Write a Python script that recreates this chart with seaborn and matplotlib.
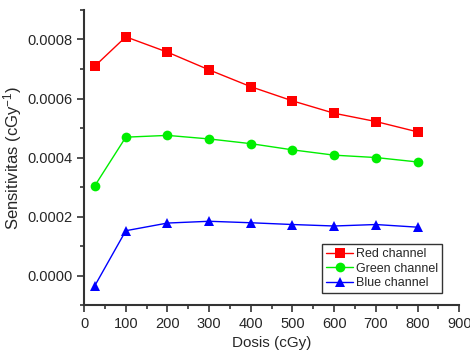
import pandas as pd
import matplotlib.pyplot as plt
import seaborn as sns
from matplotlib.ticker import MultipleLocator

# data
dose = [25, 100, 200, 300, 400, 500, 600, 700, 800]
red = [0.000709, 0.000809, 0.000757, 0.000697, 0.000640, 0.000592, 0.000550, 0.000522, 0.000487]
green = [0.000303, 0.000469, 0.000475, 0.000463, 0.000447, 0.000426, 0.000408, 0.000400, 0.000385]
blue = [-0.000036, 0.000152, 0.000178, 0.000184, 0.000179, 0.000173, 0.000168, 0.000173, 0.000164]
channels = ["Red channel", "Green channel", "Blue channel"]

df = pd.concat([
    pd.DataFrame({"Dosis": dose, "S": vals, "Channel": name})
    for name, vals in zip(channels, [red, green, blue])
])

sns.set_style("ticks")
plt.rcParams['font.family'] = ['Liberation Sans', 'DejaVu Sans']
plt.rcParams['mathtext.default'] = 'regular'

fig = plt.figure(figsize=(4.7, 3.56), dpi=100)
ax = fig.add_axes([0.179, 0.143, 0.798, 0.829])

sns.lineplot(data=df, x="Dosis", y="S", hue="Channel", style="Channel",
             palette=["#ff0000", "#00ee00", "#0000ff"],
             markers=["s", "o", "^"], dashes=False, markersize=7,
             markeredgewidth=0, linewidth=1, ax=ax)

ax.set_xlim(0, 900)
ax.set_ylim(-0.0001, 0.0009)
ax.xaxis.set_major_locator(MultipleLocator(100))
ax.xaxis.set_minor_locator(MultipleLocator(50))
ax.yaxis.set_major_locator(MultipleLocator(0.0002))
ax.yaxis.set_minor_locator(MultipleLocator(0.0001))
ax.yaxis.set_major_formatter(plt.FormatStrFormatter('%.4f'))

for s in ["top", "right"]:
    ax.spines[s].set_visible(False)
for s in ["left", "bottom"]:
    ax.spines[s].set_color("#333333")
    ax.spines[s].set_linewidth(1.5)
ax.tick_params(which="major", length=5, width=1.2, color="#333333", labelsize=10.5)
ax.tick_params(which="minor", length=3, width=1.2, color="#333333")

ax.set_xlabel("Dosis (cGy)", fontsize=11)
ax.set_ylabel("Sensitivitas (cGy$^{-1}$)", fontsize=12, labelpad=2)

leg = ax.legend(loc="lower right", bbox_to_anchor=(0.97, 0.02), fontsize=9,
                frameon=True, fancybox=False, edgecolor="black",
                borderpad=0.3, labelspacing=0.2, handlelength=2.2, handletextpad=0.2)
leg.get_frame().set_linewidth(1)

fig.savefig("out.png", dpi=100)
